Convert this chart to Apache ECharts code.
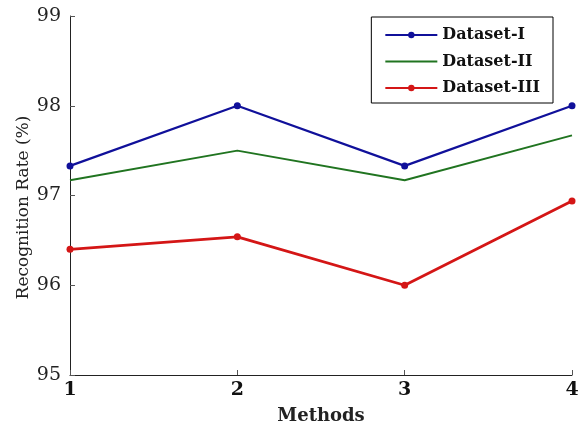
<!DOCTYPE html>
<html>
<head>
<meta charset="utf-8">
<script src="https://cdn.jsdelivr.net/npm/echarts@6/dist/echarts.min.js"></script>
<style>
  html, body { margin: 0; padding: 0; background: #fff; }
  #chart { width: 578px; height: 431px; }
</style>
</head>
<body>
<div id="chart"></div>
<script>
// Methods compared on the x axis
const methods = ['1', '2', '3', '4'];

// Recognition rate (%) for each dataset
const datasetI = [97.33, 98.0, 97.33, 98.0];
const datasetII = [97.17, 97.5, 97.17, 97.67];
const datasetIII = [96.4, 96.54, 96.0, 96.94];

const serif = '"DejaVu Serif", "Liberation Serif", serif';

const chart = echarts.init(document.getElementById('chart'), null, { renderer: 'canvas' });

chart.setOption({
  animation: false,
  backgroundColor: '#ffffff',
  grid: { left: 70, right: 6, top: 16, bottom: 56, containLabel: false, outerBoundsMode: 'none' },
  legend: {
    orient: 'vertical',
    right: 25,
    top: 17,
    padding: [10, 13, 7, 13],
    itemGap: 10.5,
    itemWidth: 52,
    itemHeight: 8,
    borderColor: '#000',
    borderWidth: 1,
    borderRadius: 0,
    backgroundColor: '#fff',
    textStyle: { fontFamily: serif, fontWeight: 'bold', fontSize: 16, color: '#111' },
    data: [
      { name: 'Dataset-I' },
      { name: 'Dataset-II', itemStyle: { opacity: 0 } },
      { name: 'Dataset-III' }
    ]
  },
  xAxis: {
    type: 'category',
    data: methods,
    boundaryGap: false,
    name: 'Methods',
    nameLocation: 'middle',
    nameGap: 32,
    nameMoveOverlap: false,
    nameTextStyle: { fontFamily: serif, fontWeight: 'bold', fontSize: 18, color: '#222' },
    axisLine: { lineStyle: { color: '#222', width: 1 } },
    axisTick: { inside: true, length: 5, lineStyle: { color: '#555' }, alignWithLabel: true },
    axisLabel: { fontFamily: serif, fontWeight: 'bold', fontSize: 19, color: '#111', margin: 6 },
    splitLine: { show: false }
  },
  yAxis: {
    type: 'value',
    min: 95,
    max: 99,
    interval: 1,
    name: 'Recognition Rate (%)',
    nameLocation: 'middle',
    nameGap: 38,
    nameMoveOverlap: false,
    nameTextStyle: { fontFamily: serif, fontSize: 17, color: '#222', padding: [0, 24, 0, 0] },
    axisLine: { show: true, lineStyle: { color: '#222', width: 1 } },
    axisTick: { show: true, inside: true, length: 5, lineStyle: { color: '#555' } },
    axisLabel: { fontFamily: serif, fontSize: 19, color: '#222', margin: 9 },
    splitLine: { show: false }
  },
  series: [
    {
      name: 'Dataset-I',
      type: 'line',
      data: datasetI,
      color: '#10109a',
      lineStyle: { width: 2.2 },
      symbol: 'circle',
      symbolSize: 7,
      showSymbol: true
    },
    {
      name: 'Dataset-II',
      type: 'line',
      data: datasetII,
      color: '#207420',
      lineStyle: { width: 2 },
      symbol: 'none'
    },
    {
      name: 'Dataset-III',
      type: 'line',
      data: datasetIII,
      color: '#d41616',
      lineStyle: { width: 2.8 },
      symbol: 'circle',
      symbolSize: 7,
      showSymbol: true
    }
  ]
});
</script>
</body>
</html>
